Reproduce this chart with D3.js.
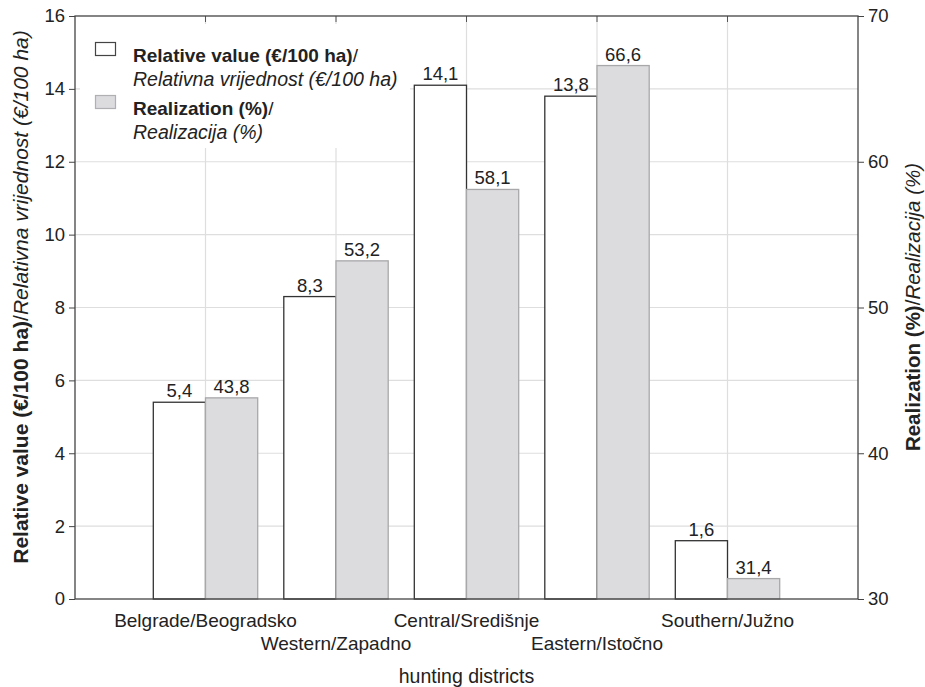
<!DOCTYPE html>
<html><head><meta charset="utf-8">
<script src="https://cdn.jsdelivr.net/npm/d3@7"></script>
<style>body{margin:0;background:#fff}text{font-family:"Liberation Sans",Arial,sans-serif;fill:#222}</style>
</head><body>
<svg id="c" width="925" height="687"></svg>
<script>
const categories = ["Belgrade/Beogradsko","Western/Zapadno","Central/Središnje","Eastern/Istočno","Southern/Južno"];
const relativeValue = [5.4, 8.3, 14.1, 13.8, 1.6];
const realization = [43.8, 53.2, 58.1, 66.6, 31.4];
const leftTicks = [0,2,4,6,8,10,12,14,16];
const rightTicks = [30,40,50,60,70];

const svg = d3.select("#c");
const L = 75, R = 858, T = 16, B = 599;
const x = d3.scaleLinear().domain([0, categories.length + 1]).range([L, R]);
const yL = d3.scaleLinear().domain([0, 16]).range([B, T]);
const yR = d3.scaleLinear().domain([30, 70]).range([B, T]);
const bw = 0.4;
const fmt = v => String(v).replace(".", ",");

// gridlines
svg.append("g").selectAll("line").data(leftTicks.slice(1, -1)).join("line")
  .attr("x1", L).attr("x2", R).attr("y1", d => yL(d)).attr("y2", d => yL(d))
  .attr("stroke", "#dedede").attr("stroke-width", 1.2);
svg.append("g").selectAll("line").data(categories).join("line")
  .attr("x1", (d, i) => x(i + 1)).attr("x2", (d, i) => x(i + 1)).attr("y1", T).attr("y2", B)
  .attr("stroke", "#dedede").attr("stroke-width", 1.2);

// top ticks (inside)
svg.append("g").selectAll("line").data(categories).join("line")
  .attr("x1", (d, i) => x(i + 1)).attr("x2", (d, i) => x(i + 1)).attr("y1", T).attr("y2", T + 6)
  .attr("stroke", "#555");

// legend background
svg.append("rect").attr("x", 80).attr("y", 24).attr("width", 330).attr("height", 124).attr("fill", "#fff");

// bars
const g = svg.append("g");
g.selectAll("rect.rv").data(relativeValue).join("rect").attr("class", "rv")
  .attr("x", (d, i) => x(i + 1 - bw)).attr("width", (d, i) => x(i + 1) - x(i + 1 - bw))
  .attr("y", d => yL(d)).attr("height", d => yL(0) - yL(d))
  .attr("fill", "#fff").attr("stroke", "#333").attr("stroke-width", 1.3);
g.selectAll("rect.re").data(realization).join("rect").attr("class", "re")
  .attr("x", (d, i) => x(i + 1)).attr("width", (d, i) => x(i + 1 + bw) - x(i + 1))
  .attr("y", d => yR(d)).attr("height", d => yR(30) - yR(d))
  .attr("fill", "#dcdcdf").attr("stroke", "#a8a8aa").attr("stroke-width", 1.3);

// value labels
g.selectAll("text.rvl").data(relativeValue).join("text").attr("class", "rvl")
  .attr("x", (d, i) => x(i + 1 - bw / 2)).attr("y", d => yL(d) - 5)
  .attr("text-anchor", "middle").attr("font-size", 18.5).text(fmt);
g.selectAll("text.rel").data(realization).join("text").attr("class", "rel")
  .attr("x", (d, i) => x(i + 1 + bw / 2)).attr("y", d => yR(d) - 5)
  .attr("text-anchor", "middle").attr("font-size", 18.5).text(fmt);

// frame
svg.append("rect").attr("x", L).attr("y", T).attr("width", R - L).attr("height", B - T)
  .attr("fill", "none").attr("stroke", "#444").attr("stroke-width", 1.3);

// left axis
const la = svg.append("g").attr("transform", `translate(${L},0)`)
  .call(d3.axisLeft(yL).tickValues(leftTicks).tickSize(6).tickSizeOuter(0).tickPadding(4));
la.select(".domain").remove();
la.selectAll("line").attr("stroke", "#444");
la.selectAll("text").attr("font-size", 18.5).attr("font-family", "Liberation Sans, Arial, sans-serif").attr("fill", "#222");

// right axis
const ra = svg.append("g").attr("transform", `translate(${R},0)`)
  .call(d3.axisRight(yR).tickValues(rightTicks).tickSize(6).tickSizeOuter(0).tickPadding(4));
ra.select(".domain").remove();
ra.selectAll("line").attr("stroke", "#444");
ra.selectAll("text").attr("font-size", 18.5).attr("font-family", "Liberation Sans, Arial, sans-serif").attr("fill", "#222");

// category labels (staggered)
svg.append("g").selectAll("text").data(categories).join("text")
  .attr("x", (d, i) => x(i + 1)).attr("y", (d, i) => i % 2 === 0 ? 627 : 650)
  .attr("text-anchor", "middle").attr("font-size", 19).text(d => d);

// x title
svg.append("text").attr("x", x(3)).attr("y", 683).attr("text-anchor", "middle")
  .attr("font-size", 19.5).text("hunting districts");

// left title
const lt = svg.append("text").attr("transform", "translate(28,297) rotate(-90)")
  .attr("text-anchor", "middle").attr("font-size", 21);
lt.append("tspan").attr("font-weight", "bold").text("Relative value (€/100 ha)");
lt.append("tspan").text("/");
lt.append("tspan").attr("font-style", "italic").text("Relativna vrijednost (€/100 ha)");

// right title
const rt = svg.append("text").attr("transform", "translate(920,307) rotate(-90)")
  .attr("text-anchor", "middle").attr("font-size", 20.5);
rt.append("tspan").attr("font-weight", "bold").text("Realization (%)");
rt.append("tspan").text("/");
rt.append("tspan").attr("font-style", "italic").text("Realizacija (%)");

// legend
const lg = svg.append("g");
lg.append("rect").attr("x", 95.5).attr("y", 42.5).attr("width", 20).attr("height", 13)
  .attr("fill", "#fff").attr("stroke", "#444").attr("stroke-width", 1.2);
lg.append("rect").attr("x", 95.5).attr("y", 95.5).attr("width", 20).attr("height", 13)
  .attr("fill", "#dcdcdf").attr("stroke", "#b0b0b2").attr("stroke-width", 1.2);
const t1 = lg.append("text").attr("x", 133).attr("y", 62).attr("font-size", 19);
t1.append("tspan").attr("font-weight", "bold").text("Relative value (€/100 ha)");
t1.append("tspan").text("/");
lg.append("text").attr("x", 133).attr("y", 86).attr("font-size", 19.5).attr("font-style", "italic")
  .text("Relativna vrijednost (€/100 ha)");
const t2 = lg.append("text").attr("x", 133).attr("y", 115).attr("font-size", 19);
t2.append("tspan").attr("font-weight", "bold").text("Realization (%)");
t2.append("tspan").text("/");
lg.append("text").attr("x", 133).attr("y", 139).attr("font-size", 19.5).attr("font-style", "italic")
  .text("Realizacija (%)");
</script>
</body></html>
